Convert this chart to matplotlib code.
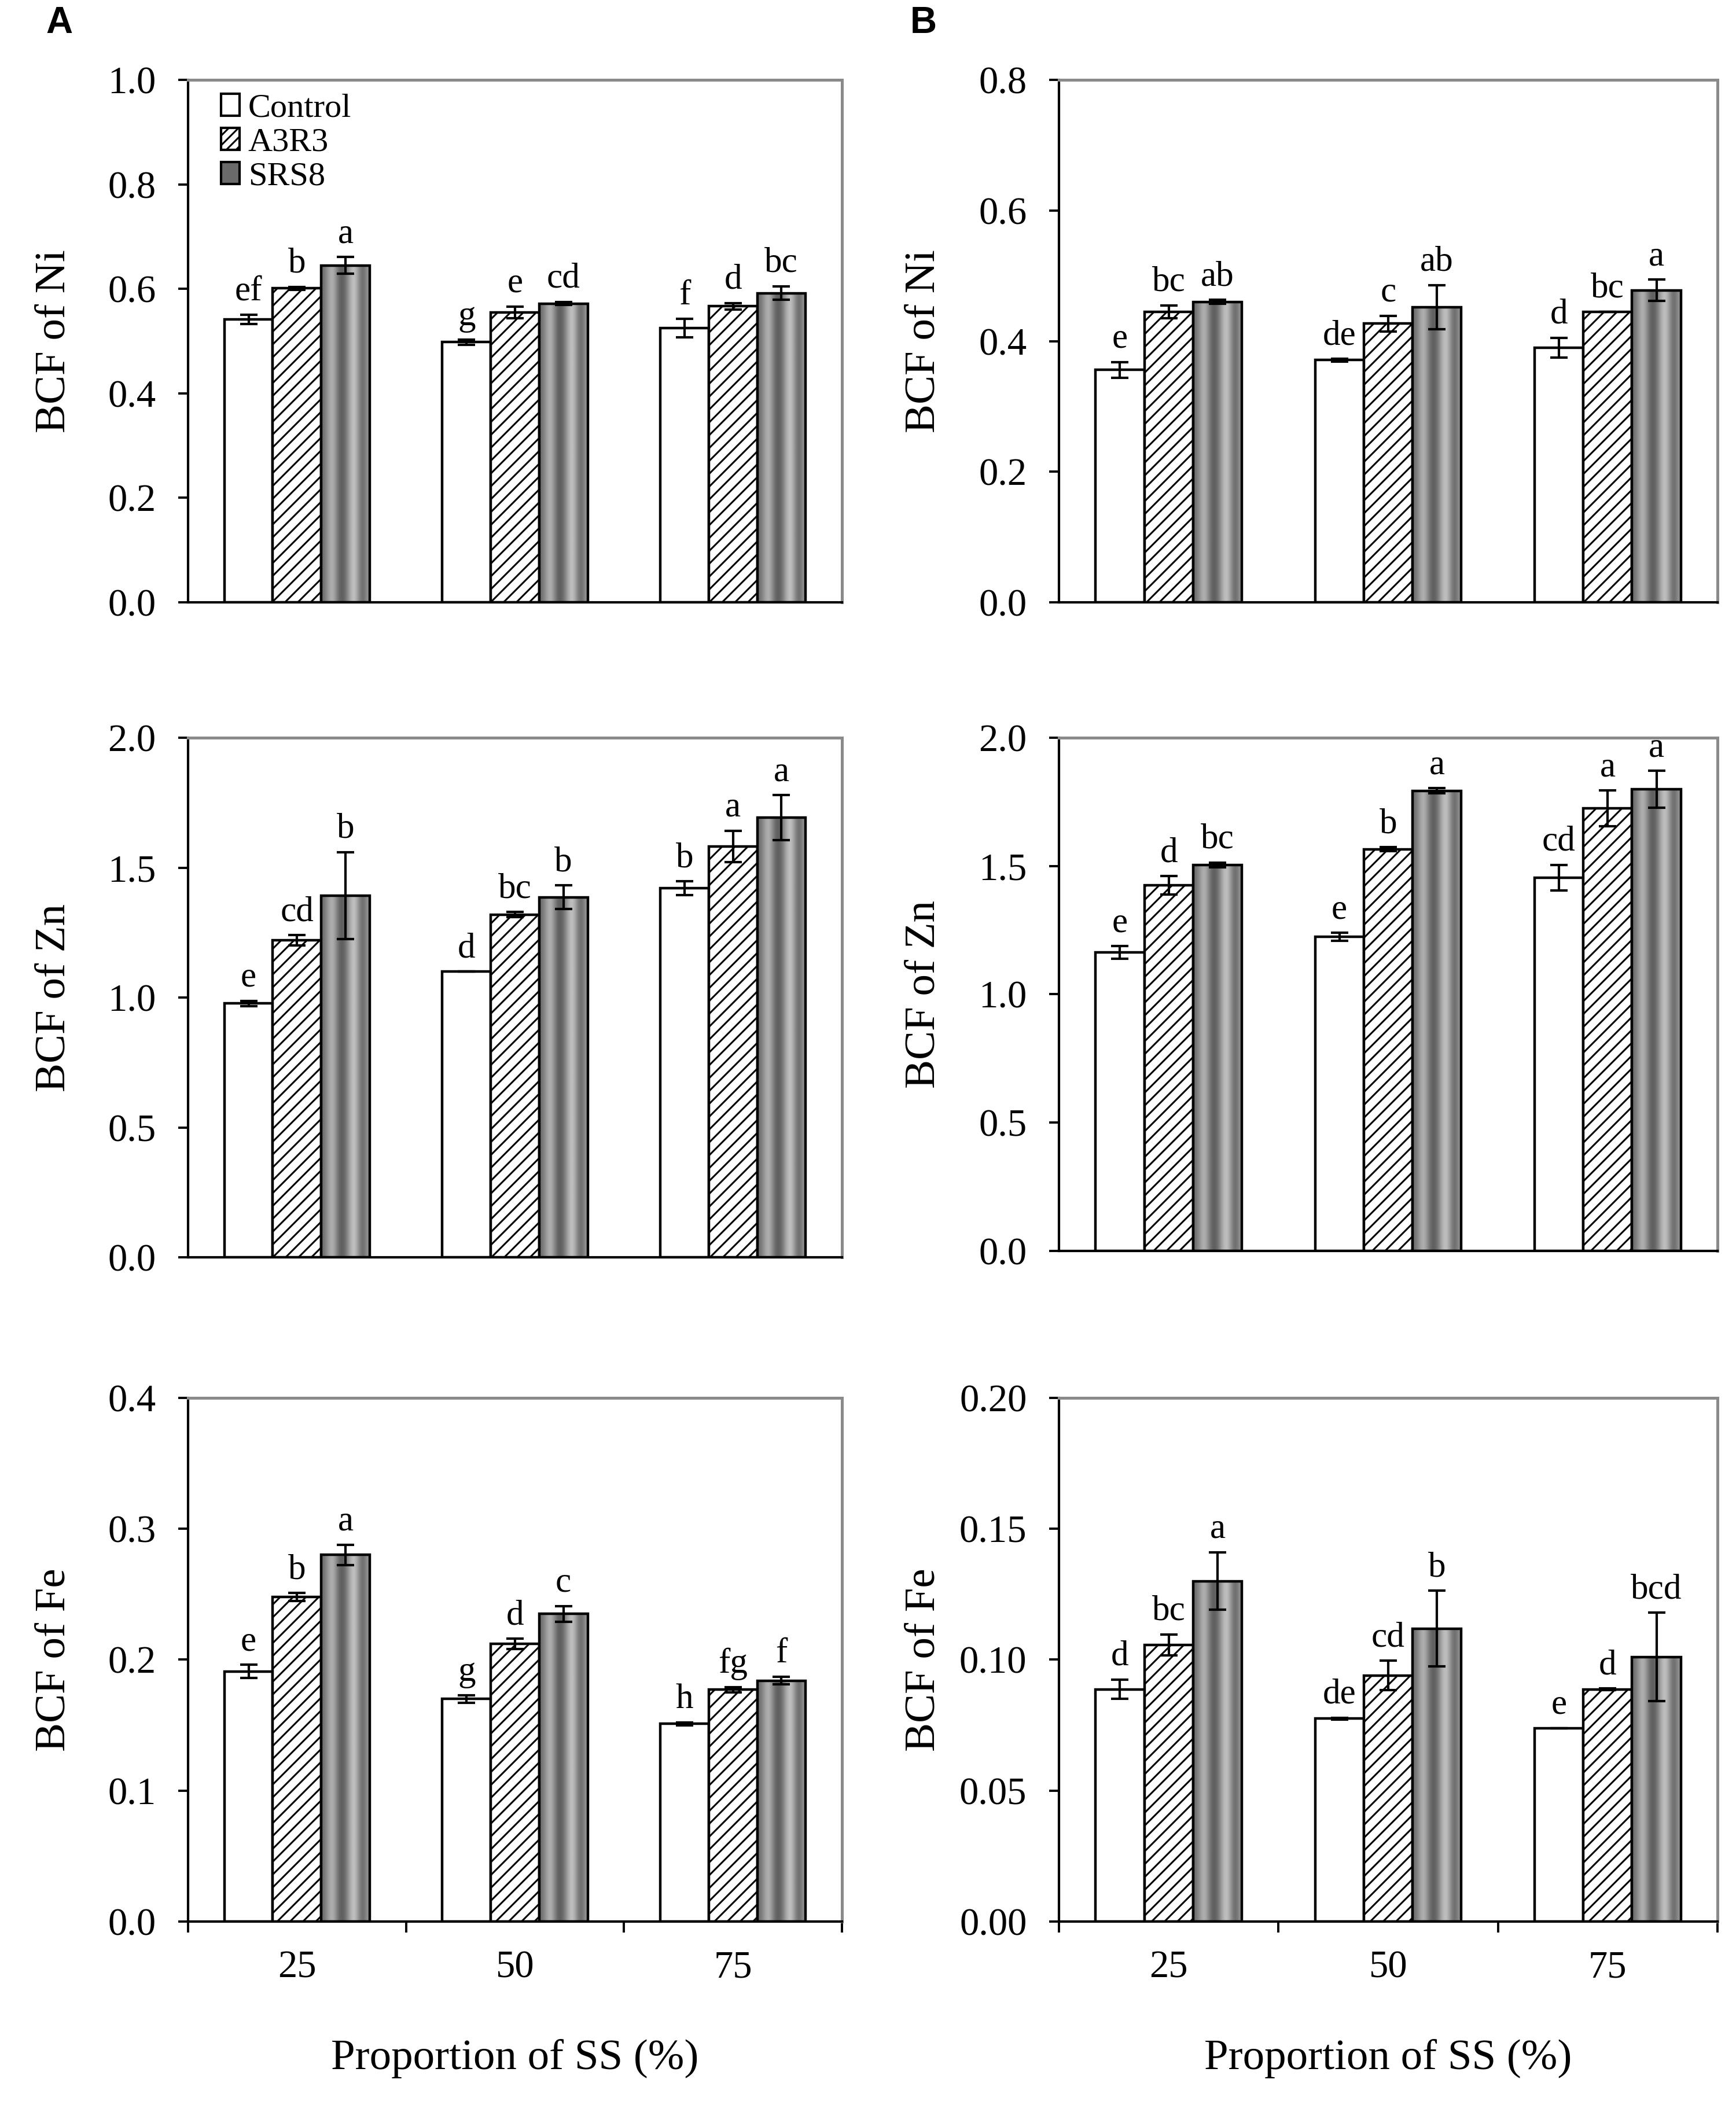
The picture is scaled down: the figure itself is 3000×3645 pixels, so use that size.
import numpy as np
import matplotlib
matplotlib.use('Agg')
import matplotlib.pyplot as plt
from matplotlib.patches import Patch
from matplotlib.ticker import FormatStrFormatter

plt.rcParams['font.family'] = ['Liberation Serif', 'DejaVu Serif']
plt.rcParams['hatch.linewidth'] = 1.1

# categories and treatments
cats = ['25', '50', '75']
treatments = ['Control', 'A3R3', 'SRS8']

# A - Ni
ni_a_ctrl = [0.542, 0.498, 0.525]
ni_a_a3r3 = [0.601, 0.555, 0.567]
ni_a_srs8 = [0.645, 0.572, 0.592]
ni_a_ctrl_err = [0.009, 0.005, 0.018]
ni_a_a3r3_err = [0.003, 0.011, 0.006]
ni_a_srs8_err = [0.016, 0.003, 0.013]
ni_a_ctrl_let = ['ef', 'g', 'f']
ni_a_a3r3_let = ['b', 'e', 'd']
ni_a_srs8_let = ['a', 'cd', 'bc']

# B - Ni
ni_b_ctrl = [0.356, 0.371, 0.390]
ni_b_a3r3 = [0.445, 0.427, 0.445]
ni_b_srs8 = [0.460, 0.452, 0.478]
ni_b_ctrl_err = [0.012, 0.002, 0.015]
ni_b_a3r3_err = [0.010, 0.012, 0.0]
ni_b_srs8_err = [0.003, 0.034, 0.016]
ni_b_ctrl_let = ['e', 'de', 'd']
ni_b_a3r3_let = ['bc', 'c', 'bc']
ni_b_srs8_let = ['ab', 'ab', 'a']

# A - Zn
zn_a_ctrl = [0.977, 1.10, 1.421]
zn_a_a3r3 = [1.22, 1.319, 1.582]
zn_a_srs8 = [1.393, 1.386, 1.692]
zn_a_ctrl_err = [0.01, 0.0, 0.026]
zn_a_a3r3_err = [0.02, 0.01, 0.06]
zn_a_srs8_err = [0.167, 0.046, 0.087]
zn_a_ctrl_let = ['e', 'd', 'b']
zn_a_a3r3_let = ['cd', 'bc', 'a']
zn_a_srs8_let = ['b', 'b', 'a']

# B - Zn
zn_b_ctrl = [1.163, 1.224, 1.455]
zn_b_a3r3 = [1.424, 1.565, 1.724]
zn_b_srs8 = [1.504, 1.793, 1.799]
zn_b_ctrl_err = [0.025, 0.015, 0.05]
zn_b_a3r3_err = [0.036, 0.008, 0.07]
zn_b_srs8_err = [0.01, 0.01, 0.072]
zn_b_ctrl_let = ['e', 'e', 'cd']
zn_b_a3r3_let = ['d', 'b', 'a']
zn_b_srs8_let = ['bc', 'a', 'a']

# A - Fe
fe_a_ctrl = [0.191, 0.170, 0.151]
fe_a_a3r3 = [0.248, 0.212, 0.177]
fe_a_srs8 = [0.280, 0.235, 0.184]
fe_a_ctrl_err = [0.005, 0.003, 0.001]
fe_a_a3r3_err = [0.003, 0.004, 0.002]
fe_a_srs8_err = [0.0077, 0.006, 0.003]
fe_a_ctrl_let = ['e', 'g', 'h']
fe_a_a3r3_let = ['b', 'd', 'fg']
fe_a_srs8_let = ['a', 'c', 'f']

# B - Fe
fe_b_ctrl = [0.0887, 0.0775, 0.0739]
fe_b_a3r3 = [0.1056, 0.094, 0.0887]
fe_b_srs8 = [0.130, 0.1119, 0.101]
fe_b_ctrl_err = [0.0037, 0.0003, 0.0]
fe_b_a3r3_err = [0.004, 0.0056, 0.0003]
fe_b_srs8_err = [0.011, 0.0144, 0.0169]
fe_b_ctrl_let = ['d', 'de', 'e']
fe_b_a3r3_let = ['bc', 'cd', 'd']
fe_b_srs8_let = ['a', 'b', 'bcd']

# gray shades across the SRS8 bars (vertical gradient bands)
stripes = np.array([[0.42, 0.58, 0.74, 0.52, 0.34, 0.42, 0.66, 0.8, 0.56, 0.38, 0.6]])

W = 1 / 4.5   # excel gap width 150%
x = np.arange(len(cats))


def panel(ax, vals, errs, lets, ymax, step, fmt, ylabel, bottom=False):
    ctrl, a3, srs = vals
    ax.bar(x - W, ctrl, W, color='white', edgecolor='black', lw=1.6, zorder=2)
    ax.bar(x, a3, W, color='white', edgecolor='black', hatch='///', lw=1.6, zorder=2)
    bars_s = ax.bar(x + W, srs, W, color='none', edgecolor='black', lw=1.6, zorder=3)
    for b in bars_s:
        im = ax.imshow(stripes, cmap='gray', vmin=0, vmax=1, aspect='auto',
                       interpolation='bicubic', zorder=2,
                       extent=[b.get_x(), b.get_x() + b.get_width(), 0, b.get_height()])
        im.set_clip_path(b)
    for off, v, e, l in zip([-W, 0, W], vals, errs, lets):
        ax.errorbar(x + off, v, yerr=e, fmt='none', ecolor='black', elinewidth=1.5,
                    capsize=5.5, capthick=1.5, zorder=4)
        for xi, vi, ei, li in zip(x + off, v, e, l):
            ax.annotate(li, (xi, vi + ei), xytext=(0, 9), textcoords='offset points',
                        ha='center', va='baseline', fontsize=22)
    ax.set_xlim(-0.5, 2.5)
    ax.set_ylim(0, ymax)
    ax.set_yticks(np.arange(0, ymax + step / 2, step))
    ax.yaxis.set_major_formatter(FormatStrFormatter(fmt))
    ax.tick_params(axis='y', direction='out', length=6, width=1.4, pad=14, labelsize=24)
    for s in ['left', 'bottom']:
        ax.spines[s].set_color('black')
        ax.spines[s].set_linewidth(1.5)
    for s in ['top', 'right']:
        ax.spines[s].set_color('#8a8a8a')
        ax.spines[s].set_linewidth(1.8)
    ax.set_ylabel(ylabel, fontsize=27)
    ax.yaxis.set_label_coords(-0.175, 0.5)
    if bottom:
        ax.set_xticks([-0.5, 0.5, 1.5, 2.5])
        ax.set_xticklabels([])
        ax.set_xticks(x, minor=True)
        ax.set_xticklabels(cats, minor=True)
        ax.tick_params(axis='x', which='major', direction='out', length=7, width=1.4)
        ax.tick_params(axis='x', which='minor', length=0, pad=18, labelsize=24)
        ax.set_xlabel('Proportion of SS (%)', fontsize=27, labelpad=33)
    else:
        ax.set_xticks([])


fig = plt.figure(figsize=(15, 18.225), dpi=200)

ax1 = fig.add_axes([0.1083, 0.7144, 0.3767, 0.2477])
ax2 = fig.add_axes([0.61, 0.7144, 0.3793, 0.2477])
ax3 = fig.add_axes([0.1083, 0.4038, 0.3767, 0.2464])
ax4 = fig.add_axes([0.61, 0.4069, 0.3793, 0.2433])
ax5 = fig.add_axes([0.1083, 0.0889, 0.3767, 0.2483])
ax6 = fig.add_axes([0.61, 0.0889, 0.3793, 0.2483])

panel(ax1, [ni_a_ctrl, ni_a_a3r3, ni_a_srs8], [ni_a_ctrl_err, ni_a_a3r3_err, ni_a_srs8_err],
      [ni_a_ctrl_let, ni_a_a3r3_let, ni_a_srs8_let], 1.0, 0.2, '%.1f', 'BCF of Ni')
panel(ax2, [ni_b_ctrl, ni_b_a3r3, ni_b_srs8], [ni_b_ctrl_err, ni_b_a3r3_err, ni_b_srs8_err],
      [ni_b_ctrl_let, ni_b_a3r3_let, ni_b_srs8_let], 0.8, 0.2, '%.1f', 'BCF of Ni')
panel(ax3, [zn_a_ctrl, zn_a_a3r3, zn_a_srs8], [zn_a_ctrl_err, zn_a_a3r3_err, zn_a_srs8_err],
      [zn_a_ctrl_let, zn_a_a3r3_let, zn_a_srs8_let], 2.0, 0.5, '%.1f', 'BCF of Zn')
panel(ax4, [zn_b_ctrl, zn_b_a3r3, zn_b_srs8], [zn_b_ctrl_err, zn_b_a3r3_err, zn_b_srs8_err],
      [zn_b_ctrl_let, zn_b_a3r3_let, zn_b_srs8_let], 2.0, 0.5, '%.1f', 'BCF of Zn')
panel(ax5, [fe_a_ctrl, fe_a_a3r3, fe_a_srs8], [fe_a_ctrl_err, fe_a_a3r3_err, fe_a_srs8_err],
      [fe_a_ctrl_let, fe_a_a3r3_let, fe_a_srs8_let], 0.4, 0.1, '%.1f', 'BCF of Fe', bottom=True)
panel(ax6, [fe_b_ctrl, fe_b_a3r3, fe_b_srs8], [fe_b_ctrl_err, fe_b_a3r3_err, fe_b_srs8_err],
      [fe_b_ctrl_let, fe_b_a3r3_let, fe_b_srs8_let], 0.20, 0.05, '%.2f', 'BCF of Fe', bottom=True)

handles = [Patch(facecolor='white', edgecolor='black', lw=1.5),
           Patch(facecolor='white', edgecolor='black', hatch='////', lw=1.5),
           Patch(facecolor='#6a6a6a', edgecolor='black', lw=1.5)]
ax1.legend(handles, treatments, loc='upper left', bbox_to_anchor=(0.03, 1.0), frameon=False,
           fontsize=21, handlelength=0.55, handleheight=0.65, handletextpad=0.25,
           labelspacing=0.12, borderpad=0.2, borderaxespad=0.2)

fig.text(0.034, 0.989, 'A', family='Liberation Sans', weight='bold', fontsize=23,
         ha='center', va='center')
fig.text(0.532, 0.989, 'B', family='Liberation Sans', weight='bold', fontsize=23,
         ha='center', va='center')

fig.savefig('out.png', dpi=200)
